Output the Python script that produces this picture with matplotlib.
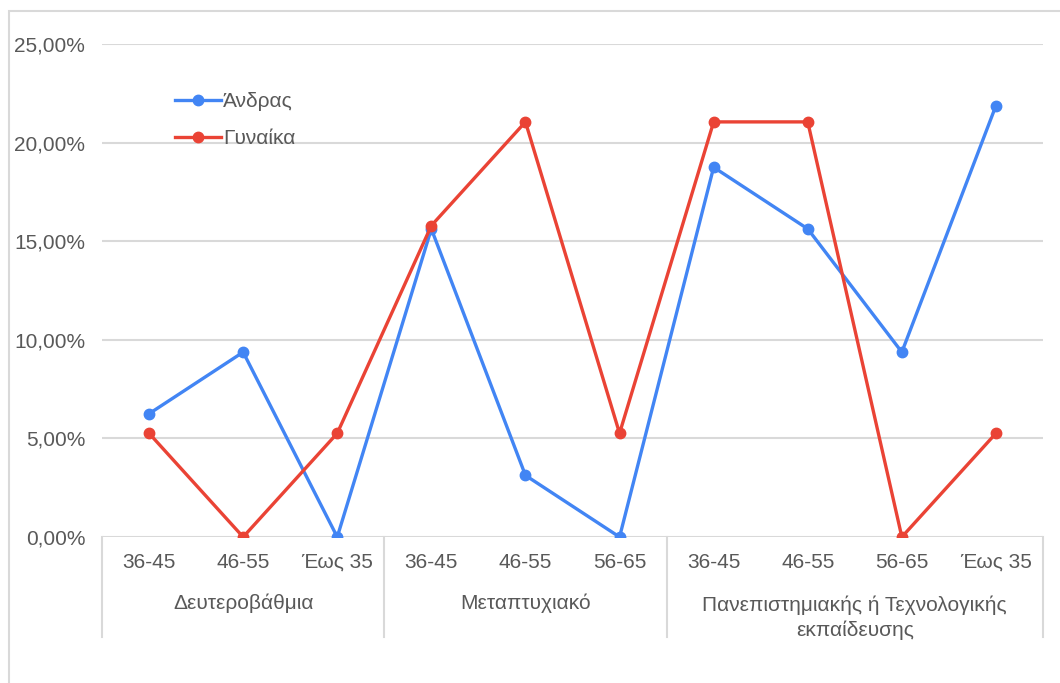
import matplotlib.pyplot as plt
from matplotlib.patches import Rectangle
from matplotlib.ticker import FuncFormatter

plt.rcParams['font.family'] = ['Liberation Sans', 'DejaVu Sans']

# age bands (inner axis level) and education groups (outer level)
ages = ['36-45', '46-55', 'Έως 35',
        '36-45', '46-55', '56-65',
        '36-45', '46-55', '56-65', 'Έως 35']
groups = ['Δευτεροβάθμια', 'Μεταπτυχιακό',
          'Πανεπιστημιακής ή Τεχνολογικής\nεκπαίδευσης']
group_sizes = [3, 3, 4]

men = [6.25, 9.375, 0.0, 15.625, 3.125, 0.0, 18.75, 15.625, 9.375, 21.875]
women = [5.26, 0.0, 5.26, 15.79, 21.05, 5.26, 21.05, 21.05, 0.0, 5.26]

grid_c = '#D9D9D9'
txt_c = '#595959'
fs = 15

fig = plt.figure(figsize=(10.6, 6.83), dpi=100)
ax = fig.add_axes([102/1060, 1-537/683, (1043-102)/1060, 493/683])

# light frame around the chart area
fig.patches.append(Rectangle((9/1060, -0.1), 1.2, (683-11)/683 + 0.1,
                             transform=fig.transFigure, fill=False,
                             edgecolor=grid_c, linewidth=1.5))

x = list(range(len(ages)))
ax.plot(x, men, color='#4285F4', lw=2.4, marker='o', ms=7.5, label='Άνδρας', zorder=3)
ax.plot(x, women, color='#EA4335', lw=2.4, marker='o', ms=7.5, label='Γυναίκα', zorder=3)

ax.set_xlim(-0.5, len(ages) - 0.5)
ax.set_ylim(0, 25)
ax.set_yticks([0, 5, 10, 15, 20, 25])
ax.yaxis.set_major_formatter(FuncFormatter(lambda v, p: f'{v:.2f}%'.replace('.', ',')))
ax.tick_params(axis='y', length=0, pad=12, labelsize=fs, labelcolor=txt_c)
ax.set_xticks([])
ax.grid(axis='y', color=grid_c, lw=1.5)
ax.set_axisbelow(True)
for s in ax.spines.values():
    s.set_visible(False)

# two-level category axis
tr = ax.get_xaxis_transform()
for i, a in enumerate(ages):
    ax.text(i, -0.051, a, transform=tr, ha='center', va='center',
            fontsize=fs, color=txt_c)

edges = [-0.5]
for n in group_sizes:
    edges.append(edges[-1] + n)
for e in edges:
    ax.plot([e, e], [0, -0.203], transform=tr, color=grid_c, lw=1.5, clip_on=False)

for g, lo, hi in zip(groups, edges[:-1], edges[1:]):
    y = -0.134 if '\n' not in g else -0.163
    ax.text((lo + hi) / 2, y, g, transform=tr, ha='center', va='center',
            fontsize=fs, color=txt_c, linespacing=1.35)

ax.legend(loc='upper left', bbox_to_anchor=(0.058, 0.94), frameon=False,
          fontsize=fs, labelcolor=txt_c, handlelength=2.2, handletextpad=0.1,
          labelspacing=0.85)

fig.savefig('out.png', dpi=100)
